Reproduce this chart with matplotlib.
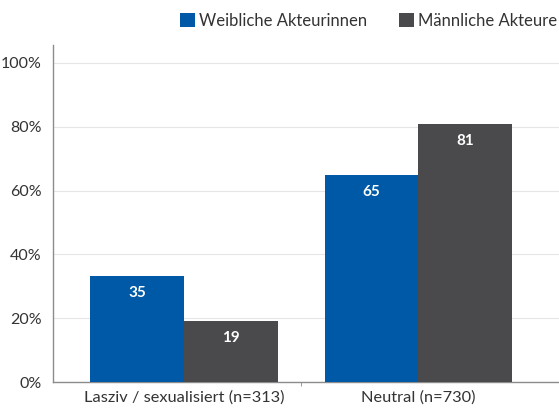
import matplotlib
matplotlib.use("Agg")
import matplotlib.pyplot as plt
import numpy as np

plt.rcParams['font.family'] = ['Lato', 'DejaVu Sans']

categories = ['Lasziv / sexualisiert (n=313)', 'Neutral (n=730)']
series = ['Weibliche Akteurinnen', 'Männliche Akteure']
# bar heights as drawn in the source, labels as printed
weiblich = [33.3, 64.9]
maennlich = [19.1, 80.9]
weiblich_lbl = ['35', '65']
maennlich_lbl = ['19', '81']
colors = ['#0059a6', '#4a4a4c']
text_col = '#333333'

fig = plt.figure(figsize=(5.59, 4.09), dpi=100)
ax = fig.add_axes([53 / 559, 27 / 409, 506 / 559, 337 / 409])

x = np.arange(len(categories))
w = 0.4
b1 = ax.bar(x - w / 2, weiblich, w, color=colors[0], label=series[0], zorder=3)
b2 = ax.bar(x + w / 2, maennlich, w, color=colors[1], label=series[1], zorder=3)

for bars, vals, lbls in ((b1, weiblich, weiblich_lbl), (b2, maennlich, maennlich_lbl)):
    for r, v, t in zip(bars, vals, lbls):
        ax.annotate(t, (r.get_x() + r.get_width() / 2, v), xytext=(0, -17),
                    textcoords='offset pixels',
                    ha='center', va='center', color='white', fontsize=11,
                    fontweight='bold', zorder=4)

ax.set_xlim(-0.56, 1.6)
ax.set_ylim(0, 105.6)
ax.set_yticks(range(0, 101, 20))
ax.set_yticklabels([f'{t}%' for t in range(0, 101, 20)])
ax.yaxis.grid(True, color='#e6e6e6', linewidth=0.8, zorder=0)
ax.set_xticks(x)
ax.set_xticklabels(categories)
ax.tick_params(axis='x', length=0, pad=6, labelsize=11.8, labelcolor=text_col)
ax.tick_params(axis='y', length=0, pad=8, labelsize=11.5, labelcolor=text_col)
ax.set_xticks([0.5], minor=True)
ax.tick_params(axis='x', which='minor', length=3, color='#888888')

for s in ('top', 'right'):
    ax.spines[s].set_visible(False)
for s in ('left', 'bottom'):
    ax.spines[s].set_color('#8c8c8c')
    ax.spines[s].set_linewidth(1.0)

ax.legend(loc='center right', bbox_to_anchor=(504 / 506, 1.0 + 24 / 337), ncol=2,
          frameon=False, fontsize=12, handlelength=0.9, handleheight=0.9,
          handletextpad=0.25, columnspacing=1.9, labelcolor=text_col,
          borderaxespad=0, borderpad=0)

fig.savefig('out.png', dpi=100)
